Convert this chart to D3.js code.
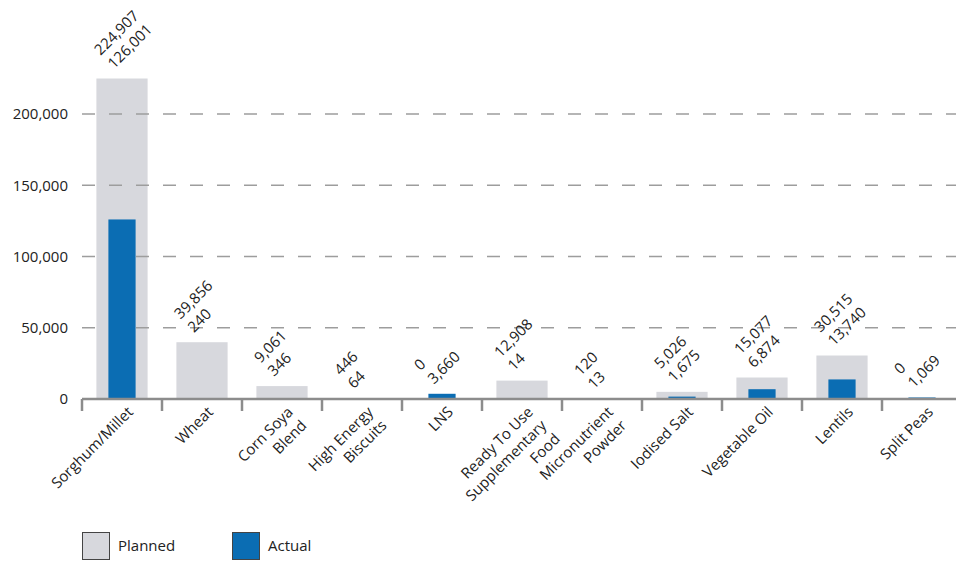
<!DOCTYPE html>
<html>
<head>
<meta charset="utf-8">
<script src="https://cdn.jsdelivr.net/npm/d3@7"></script>
<style>
  body { margin: 0; background: #fff; }
  text { font-family: "Open Sans", sans-serif; }
</style>
</head>
<body>
<div id="chart"></div>
<script>
// margin setting
const width = 956;
const height = 563;

// data
const categories = ["Sorghum/Millet", "Wheat", "Corn Soya Blend", "High Energy Biscuits", "LNS",
  "Ready To Use Supplementary Food", "Micronutrient Powder", "Iodised Salt", "Vegetable Oil", "Lentils", "Split Peas"];
const labelLines = [["Sorghum/Millet"], ["Wheat"], ["Corn Soya", "Blend"], ["High Energy", "Biscuits"], ["LNS"],
  ["Ready To Use", "Supplementary", "Food"], ["Micronutrient", "Powder"], ["Iodised Salt"], ["Vegetable Oil"], ["Lentils"], ["Split Peas"]];
const planned = [224907, 39856, 9061, 446, 0, 12908, 120, 5026, 15077, 30515, 0];
const actual = [126001, 240, 346, 64, 3660, 14, 13, 1675, 6874, 13740, 1069];
const yTicks = [0, 50000, 100000, 150000, 200000];
const legendItems = ["Planned", "Actual"];

const data = categories.map((c, i) => ({cat: c, lines: labelLines[i], planned: planned[i], actual: actual[i]}));

// scales
var x = d3.scaleBand()
    .domain(categories)
    .range([82, 962]);

var y = d3.scaleLinear()
    .domain([0, 200000])
    .range([399, 114]);

var color = d3.scaleOrdinal()
    .domain(legendItems)
    .range(["#d7d8dd", "#0b6db3"]);

var fmt = d3.format(",");

var svg = d3.select("#chart")
    .append("svg")
    .attr("width", width)
    .attr("height", height);

// planned bars
const pw = x.bandwidth() * 0.64;
const aw = x.bandwidth() * 0.34;

svg.selectAll(".planned")
    .data(data)
    .enter()
    .append("rect")
    .attr("class", "planned")
    .attr("x", d => x(d.cat) + (x.bandwidth() - pw) / 2)
    .attr("width", pw)
    .attr("y", d => y(d.planned))
    .attr("height", d => y(0) - y(d.planned))
    .attr("fill", color("Planned"));

// dashed grid lines (above grey bars, under blue ones)
svg.selectAll(".grid")
    .data(yTicks.filter(t => t > 0))
    .enter()
    .append("line")
    .attr("class", "grid")
    .attr("x1", 82)
    .attr("x2", width)
    .attr("y1", d => y(d))
    .attr("y2", d => y(d))
    .attr("stroke", "#9d9d9d")
    .attr("stroke-width", 1.5)
    .attr("stroke-dasharray", "13,14");

svg.selectAll(".actual")
    .data(data)
    .enter()
    .append("rect")
    .attr("class", "actual")
    .attr("x", d => x(d.cat) + (x.bandwidth() - aw) / 2)
    .attr("width", aw)
    .attr("y", d => y(d.actual))
    .attr("height", d => y(0) - y(d.actual))
    .attr("fill", color("Actual"));

// y axis
var y_axis = d3.axisLeft(y)
    .tickValues(yTicks)
    .tickFormat(fmt)
    .tickSize(0)
    .tickPadding(14);

svg.append("g")
    .attr("class", "y axis")
    .attr("transform", "translate(82,0)")
    .call(y_axis)
    .call(g => g.select(".domain").remove())
    .selectAll("text")
    .attr("font-size", 15)
    .attr("fill", "#222");

// x axis line + boundary ticks
svg.append("line")
    .attr("x1", 82).attr("x2", width)
    .attr("y1", y(0)).attr("y2", y(0))
    .attr("stroke", "#8c8c8c")
    .attr("stroke-width", 2.5);

svg.selectAll(".xtick")
    .data(categories)
    .enter()
    .append("line")
    .attr("class", "xtick")
    .attr("x1", d => x(d)).attr("x2", d => x(d))
    .attr("y1", y(0)).attr("y2", y(0) + 12)
    .attr("stroke", "#8c8c8c")
    .attr("stroke-width", 2.5);

// category labels, rotated
svg.selectAll(".xlabel")
    .data(data)
    .enter()
    .append("text")
    .attr("class", "xlabel")
    .attr("transform", d => `translate(${x(d.cat) + x.bandwidth() / 2 + 12}, 413) rotate(-45)`)
    .attr("text-anchor", "end")
    .attr("font-size", 15)
    .attr("fill", "#222")
    .selectAll("tspan")
    .data(d => d.lines)
    .enter()
    .append("tspan")
    .attr("x", 0)
    .attr("y", (d, i) => i * 19)
    .text(d => d);

// value labels: planned over actual
svg.selectAll(".vlabel")
    .data(data)
    .enter()
    .append("text")
    .attr("class", "vlabel")
    .attr("transform", d => `translate(${x(d.cat) + x.bandwidth() / 2 - 8}, ${y(Math.max(d.planned, d.actual)) - 9}) rotate(-45)`)
    .attr("font-size", 15)
    .attr("fill", "#222")
    .selectAll("tspan")
    .data(d => [d.planned, d.actual])
    .enter()
    .append("tspan")
    .attr("x", 0)
    .attr("y", (d, i) => (i - 1) * 19)
    .text(d => fmt(d));

// legend
var legend = svg.selectAll(".legend")
    .data(legendItems)
    .enter()
    .append("g")
    .attr("class", "legend")
    .attr("transform", (d, i) => `translate(${82 + i * 150}, 532)`);

legend.append("rect")
    .attr("x", 0.5).attr("y", 0.5)
    .attr("width", 27).attr("height", 27)
    .attr("fill", d => color(d))
    .attr("stroke", "#444");

legend.append("text")
    .attr("x", 36)
    .attr("y", 19)
    .attr("font-size", 15)
    .attr("fill", "#222")
    .text(d => d);
</script>
</body>
</html>
